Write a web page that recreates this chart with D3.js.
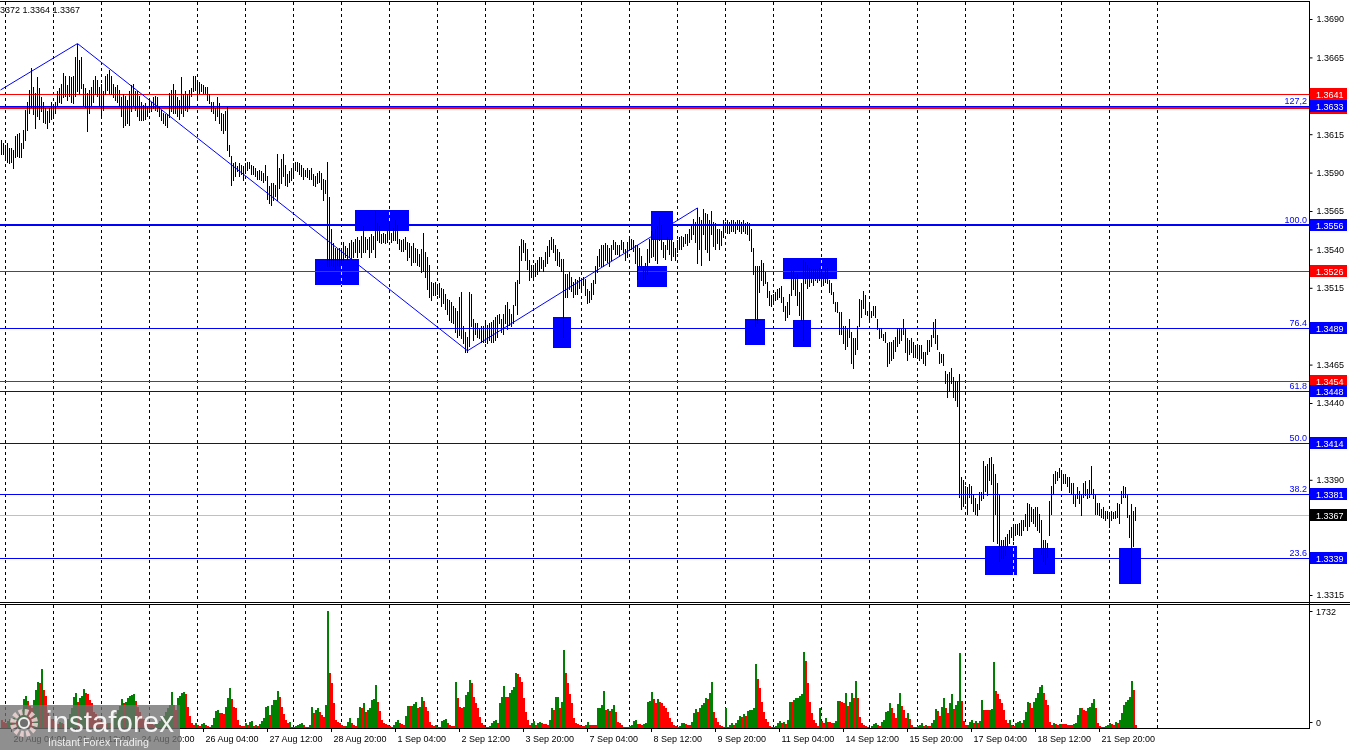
<!DOCTYPE html>
<html><head><meta charset="utf-8">
<script src="https://cdn.jsdelivr.net/npm/d3@7"></script>
<style>html,body{margin:0;padding:0;background:#fff;overflow:hidden}svg{display:block}text{font-family:"Liberation Sans",Arial,sans-serif}</style>
</head><body>
<svg id="chart" width="1350" height="750"></svg>
<script>
// ---------------- DATA ----------------
// Hourly bars, prices stored as pips above PRICE_BASE
const PRICE_BASE = 1.3300, PIP = 0.0001;
const highsPips = [
311,309,308,309,306,306,305,314,315,316, 309,318,331,336,344,358,346,342,352,345,
339,336,332,330,332,336,334,336,343,345, 348,355,353,347,353,352,353,365,374,363,
365,348,345,342,344,346,350,353,350,346, 348,343,353,354,357,353,348,346,347,344,
339,341,340,337,343,347,348,343,343,340, 336,334,335,333,337,336,339,340,339,333,
331,329,328,328,342,344,348,344,339,337, 352,341,343,341,344,345,353,353,350,349,
348,347,346,346,341,336,336,332,339,335, 329,328,330,333,308,301,296,297,294,296,
295,294,296,297,297,295,294,293,291,292, 291,290,295,288,281,283,283,282,302,293,
299,302,295,289,291,293,296,297,297,296, 295,293,292,293,292,293,289,288,290,291,
290,286,285,297,274,253,244,241,240,241, 240,245,242,241,244,246,245,247,248,246,
249,255,248,247,248,250,249,265,257,255, 250,251,250,252,258,251,254,259,256,247,
246,247,248,245,244,242,244,241,240,237, 240,251,238,235,230,219,218,219,217,218,
215,214,211,208,207,206,203,202,200,209, 212,190,186,183,212,211,195,192,192,189,
190,190,192,191,192,193,194,196,197,198, 195,198,204,206,201,198,204,219,220,242,
247,246,244,240,233,230,230,231,233,235, 235,233,238,242,246,248,247,243,240,238,
234,234,224,224,225,222,219,221,220,222, 220,222,221,214,213,218,220,229,236,240,
243,243,244,243,241,243,246,245,243,243, 246,245,240,245,247,247,246,243,243,241,
236,229,231,240,247,252,250,253,255,261, 256,245,243,248,247,246,245,241,246,248,
249,248,250,250,253,256,260,258,267,261, 259,266,264,263,259,265,258,257,253,253,
252,259,258,259,258,259,259,258,259,259, 258,259,257,258,257,253,241,229,229,229,
233,231,225,219,213,210,211,212,214,215, 216,209,203,206,211,226,226,222,224,212,
218,233,232,230,228,227,227,227,227,228, 227,224,227,228,220,218,212,206,206,199,
199,190,190,189,195,186,182,182,190,208, 207,213,210,200,204,200,203,203,195,189,
189,185,186,179,180,180,181,183,189,189, 189,195,189,182,181,182,180,178,178,178,
178,173,173,181,181,184,193,195,184,173, 172,172,161,159,160,163,157,154,154,159,
92,90,86,85,87,86,81,78,74,82, 82,102,99,100,104,105,100,94,88,80,
51,51,53,55,57,59,61,61,61,62, 64,64,68,75,74,72,71,72,72,68,
64,51,51,49,76,86,94,96,95,98, 96,94,94,92,92,88,88,80,85,83,
81,88,89,84,90,99,84,80,75,75, 71,72,70,70,68,70,69,70,75,74,
83,86,85,80,67,74,70,72
];
const lowsPips = [
302,302,298,297,296,297,293,300,301,300, 300,306,311,318,329,333,328,319,327,325,
330,323,322,319,323,325,327,329,334,336, 335,339,340,337,340,336,335,340,343,342,
345,334,333,317,329,334,336,341,340,334, 326,331,341,344,342,341,339,337,336,334,
327,320,321,322,321,330,334,331,327,324, 324,324,325,327,330,330,332,331,330,327,
324,322,321,320,326,330,329,329,327,325, 329,327,331,330,332,340,343,344,337,342,
343,342,342,337,335,330,329,324,327,322, 318,316,318,305,301,282,285,288,291,288,
289,285,290,292,293,289,289,288,286,286, 285,284,285,273,270,269,272,275,272,280,
283,288,282,281,284,285,288,292,291,289, 288,286,288,287,286,286,282,281,283,284,
279,272,277,229,229,230,229,227,230,229, 231,233,235,234,235,234,235,238,235,238,
235,238,238,240,235,238,240,235,246,245, 244,245,244,245,247,245,246,246,244,240,
239,239,240,233,235,230,232,232,230,229, 225,226,222,214,209,207,210,210,211,209,
203,205,201,198,194,193,192,186,183,184, 182,179,173,173,177,190,181,185,183,182,
180,180,180,179,181,180,180,181,183,192, 186,185,192,188,191,190,192,204,198,218,
233,238,233,227,220,222,222,223,224,226, 228,226,229,231,236,240,238,233,230,229,
226,183,209,209,214,213,209,211,211,215, 213,217,210,205,206,208,211,218,225,229,
229,229,233,232,229,233,240,237,237,236, 240,238,233,235,240,240,239,231,221,229,
228,221,221,224,232,235,236,233,231,246, 240,235,234,240,237,233,236,233,238,240,
240,242,244,243,245,247,250,245,231,240, 230,250,240,238,233,250,242,240,244,240,
243,248,252,251,251,252,252,251,253,252, 251,252,251,250,246,239,224,190,192,212,
220,217,218,209,204,203,205,207,208,209, 206,200,194,196,198,210,214,210,204,197,
194,181,218,215,216,219,217,220,219,220, 218,217,219,218,212,211,205,200,199,185,
185,179,175,177,183,166,163,172,175,190, 196,202,198,197,195,196,197,196,188,182,
183,181,180,164,166,168,169,174,177,179, 181,185,173,168,172,173,170,170,169,168,
169,166,165,172,174,177,183,179,175,166, 167,165,153,144,148,153,144,142,138,79,
71,73,75,68,79,75,70,68,67,71, 77,78,83,80,90,87,50,68,49,37,
39,39,41,46,49,53,51,54,55,54, 54,57,60,57,60,63,62,60,57,56,
42,37,35,40,54,68,81,88,90,92, 84,88,88,86,82,81,75,73,78,75,
67,79,80,78,79,81,78,68,68,67, 66,65,64,65,59,64,65,65,66,62,
75,79,79,66,53,25,47,64
];
const volumes = [
120,90,70,100,130,90,150,110,170,200,260,
430,470,400,330,300,415,560,685,660,873,560,480,
220,160,130,100,80,60,90,70,60,100,140,200,300,
464,513,390,440,480,572,520,500,420,365,240,
200,150,120,90,70,60,80,70,110,150,210,260,320,
425,365,390,440,475,490,510,405,316,240,
180,140,110,90,70,60,50,60,80,100,130,180,240,300,
340,538,340,267,440,480,513,533,500,316,178,80,
45,80,45,30,60,79,45,30,20,45,
150,257,267,217,215,200,
316,440,587,425,316,290,120,45,30,25,
70,45,95,110,30,45,30,
60,100,145,316,330,193,340,415,420,548,464,316,200,120,70,
95,20,15,25,45,60,70,45,20,15,45,316,220,260,300,230,193,158,340,1732,
809,660,365,120,94,70,50,25,
30,94,144,70,45,30,144,316,300,365,242,260,300,415,425,636,390,250,119,80,60,45,30,20,
45,94,119,70,60,45,178,326,320,330,360,390,290,306,454,405,316,257,94,45,30,45,20,10,109,120,130,70,45,30,25,686,
440,316,300,310,489,538,710,661,464,365,290,168,80,45,20,10,30,70,109,115,80,
365,464,626,464,460,520,563,612,809,800,760,686,440,242,119,45,70,105,45,70,94,70,65,60,45,120,290,267,454,460,290,390,1154,809,661,
500,375,150,80,60,45,30,25,40,94,45,45,45,40,290,300,340,548,267,277,257,277,340,242,94,70,40,20,10,20,25,45,100,115,60,55,
50,60,70,390,400,528,425,365,425,390,365,326,290,242,144,94,50,30,10,30,70,75,60,45,40,94,227,282,242,300,340,365,440,425,523,686,242,144,94,45,30,20,290,10,45,80,45,70,119,178,170,207,178,257,260,267,300,947,
720,587,390,242,129,94,30,20,10,30,80,105,80,94,60,119,390,380,415,440,450,470,
500,1120,990,661,390,217,119,70,30,290,105,80,144,94,90,70,80,100,400,395,380,365,513,326,380,523,440,700,440,168,70,45,30,15,5,
30,55,70,45,30,94,119,242,257,375,300,227,144,355,523,326,267,144,227,129,45,10,8,30,45,70,30,40,30,25,70,120,277,257,178,316,450,290,227,365,503,277,340,400,1105,
400,105,45,50,94,119,70,105,80,105,415,267,265,260,270,280,977,548,498,425,375,267,119,70,119,45,30,70,94,105,80,119,242,390,365,290,380,440,513,612,
640,513,415,340,94,45,80,60,50,60,55,55,55,50,45,40,60,80,193,300,290,267,257,290,316,365,425,290,70,30,20,10,30,45,70,65,45,94,70,120,217,340,380,420,460,695,562,40
];
const volumeMax = 1732;

// time axis labels (bar index of the labelled hour)
const timeLabelIdx = [5,37,69,101,133,165,197,229,261,293,325,357,389,421,453,485,517,549];
const timeLabels = ["20 Aug 04:00","21 Aug 12:00","24 Aug 20:00","26 Aug 04:00","27 Aug 12:00","28 Aug 20:00",
  "1 Sep 04:00","2 Sep 12:00","3 Sep 20:00","7 Sep 04:00","8 Sep 12:00","9 Sep 20:00","11 Sep 04:00",
  "14 Sep 12:00","15 Sep 20:00","17 Sep 04:00","18 Sep 12:00","21 Sep 20:00"];
const gridIdx = [2,26,50,74,98,122,146,170,194,218,242,266,290,314,338,362,386,410,434,458,482,506,530,554,578];

// price axis ticks
const priceTicks = [1.3315,1.3340,1.3365,1.3390,1.3415,1.3440,1.3465,1.3490,1.3515,1.3540,1.3565,1.3590,1.3615,1.3640,1.3665,1.3690];

// Fibonacci levels
const fibLabels = ["127,2","100.0","76.4","61.8","50.0","38.2","23.6"];
const fibPrices = [1.36334,1.3556,1.3489,1.3448,1.3414,1.3381,1.3339];
// red horizontal levels
const redLevels = [1.3641,1.36322,1.3526,1.3454];
const currentPrice = 1.3367;
const headerText = "3372 1.3364 1.3367";

// zigzag (bar index, price)
const zigzagIdx = [-0.5,38,233,348];
const zigzagPrice = [1.36438,1.3674,1.3474,1.3567];

// blue zones: start bar, end bar, low price, high price
const zoneStart = [157,177,276,325,318,372,396,391,492,516,559];
const zoneEnd   = [179,204,285,336,333,382,405,418,508,527,570];
const zoneLow   = [1.3517,1.3552,1.3476,1.3546,1.35155,1.3478,1.34765,1.3521,1.3328,1.33287,1.33222];
const zoneHigh  = [1.3534,1.35656,1.3496,1.3565,1.3529,1.3495,1.3494,1.35344,1.3347,1.33456,1.33456];

// ---------------- DRAWING ----------------
const highs = highsPips.map(v => PRICE_BASE + v * PIP);
const lows = lowsPips.map(v => PRICE_BASE + v * PIP);

const svg = d3.select("#chart");
const AXIS_X = 1309;
const PRICE_TOP = 2, PRICE_BOTTOM = 602, VOL_TOP = 605, VOL_BOTTOM = 728;
const BLUE = "#0000ff", RED = "#ff0000";

const x = d3.scaleLinear().domain([0, 1]).range([1, 3]);          // bar index -> left pixel
const y = d3.scaleLinear().domain([1.3315, 1.3690]).range([595, 19]);
const yv = d3.scaleLinear().domain([0, volumeMax]).range([VOL_BOTTOM, 611]);
const fmt = d3.format(".4f");

svg.append("rect").attr("width", 1350).attr("height", 750).attr("fill", "#fff");

const defs = svg.append("defs");
defs.append("clipPath").attr("id", "cp").append("rect")
  .attr("x", 0).attr("y", PRICE_TOP).attr("width", AXIS_X).attr("height", PRICE_BOTTOM - PRICE_TOP);
defs.append("clipPath").attr("id", "cv").append("rect")
  .attr("x", 0).attr("y", VOL_TOP).attr("width", AXIS_X).attr("height", VOL_BOTTOM - VOL_TOP);

// zones (background objects)
const zones = svg.append("g").attr("clip-path", "url(#cp)");
zoneStart.forEach((s, k) => {
  zones.append("rect")
    .attr("x", x(s)).attr("width", x(zoneEnd[k]) - x(s))
    .attr("y", Math.round(y(zoneHigh[k]))).attr("height", Math.round(y(zoneLow[k])) - Math.round(y(zoneHigh[k])))
    .attr("fill", BLUE);
});

// grid (inverse colour: black on white, yellow on blue)
const grid = svg.append("g").style("mix-blend-mode", "difference");
gridIdx.forEach(i => {
  const gx = x(i) + 0.5;
  [[PRICE_TOP, PRICE_BOTTOM], [VOL_TOP, VOL_BOTTOM]].forEach(([a, b]) => {
    grid.append("line").attr("x1", gx).attr("x2", gx).attr("y1", a).attr("y2", b)
      .attr("stroke", "#fff").attr("stroke-width", 1).attr("stroke-dasharray", "3,3")
      .attr("shape-rendering", "crispEdges");
  });
});

// horizontal levels
const lv = svg.append("g").attr("clip-path", "url(#cp)").attr("shape-rendering", "crispEdges");
lv.append("line").attr("x1", 0).attr("x2", AXIS_X)
  .attr("y1", Math.round(y(currentPrice)) + 0.5).attr("y2", Math.round(y(currentPrice)) + 0.5)
  .attr("stroke", "#c0c0c0").attr("stroke-width", 1);
redLevels.forEach((p, k) => {
  const w = k === 1 ? 2 : 1;
  const yy = Math.round(y(p)) + (w === 1 ? 0.5 : 0);
  lv.append("line").attr("x1", 0).attr("x2", AXIS_X).attr("y1", yy).attr("y2", yy)
    .attr("stroke", RED).attr("stroke-width", w);
});
fibPrices.forEach((p, k) => {
  const w = fibLabels[k] === "100.0" ? 2 : 1;
  const yy = Math.round(y(p)) + (w === 1 ? 0.5 : 0);
  lv.append("line").attr("x1", 0).attr("x2", AXIS_X).attr("y1", yy).attr("y2", yy)
    .attr("stroke", BLUE).attr("stroke-width", w);
  svg.append("text").attr("x", AXIS_X - 2).attr("y", Math.round(y(p)) - 2)
    .attr("text-anchor", "end").attr("font-size", 9).attr("fill", BLUE).text(fibLabels[k]);
});

// zigzag
svg.append("path").attr("clip-path", "url(#cp)")
  .datum(zigzagIdx.map((i, k) => [x(i) + 0.5, y(zigzagPrice[k])]))
  .attr("d", d3.line()).attr("fill", "none").attr("stroke", BLUE).attr("stroke-width", 1);

// price bars
svg.append("g").attr("clip-path", "url(#cp)").attr("shape-rendering", "crispEdges")
  .selectAll("line").data(highs).join("line")
  .attr("x1", (d, i) => x(i) + 0.5).attr("x2", (d, i) => x(i) + 0.5)
  .attr("y1", d => Math.round(y(d))).attr("y2", (d, i) => Math.round(y(lows[i])) + 1)
  .attr("stroke", "#000").attr("stroke-width", 1);

// volumes (green when volume rises vs previous bar)
svg.append("g").attr("clip-path", "url(#cv)").attr("shape-rendering", "crispEdges")
  .selectAll("rect").data(volumes).join("rect")
  .attr("x", (d, i) => x(i)).attr("width", 2)
  .attr("y", d => Math.round(yv(d))).attr("height", d => VOL_BOTTOM - Math.round(yv(d)))
  .attr("fill", (d, i) => (i > 0 && d > volumes[i - 1]) ? "#008000" : RED);

// frames
const fr = svg.append("g").attr("stroke", "#000").attr("stroke-width", 1).attr("shape-rendering", "crispEdges");
fr.append("line").attr("x1", 0).attr("x2", AXIS_X).attr("y1", 1.5).attr("y2", 1.5);
fr.append("line").attr("x1", 0).attr("x2", 1350).attr("y1", PRICE_BOTTOM + 0.5).attr("y2", PRICE_BOTTOM + 0.5);
fr.append("line").attr("x1", 0).attr("x2", 1350).attr("y1", VOL_TOP - 0.5).attr("y2", VOL_TOP - 0.5);
fr.append("line").attr("x1", 0).attr("x2", AXIS_X).attr("y1", VOL_BOTTOM + 0.5).attr("y2", VOL_BOTTOM + 0.5);
fr.append("line").attr("x1", AXIS_X + 0.5).attr("x2", AXIS_X + 0.5).attr("y1", 1).attr("y2", VOL_BOTTOM + 1);

// price label boxes (centres)
const boxCentres = redLevels.concat(fibPrices, [currentPrice]).map(p => Math.round(y(p)));

// price axis (labels hidden where a level box covers them, as in the terminal)
const pa = svg.append("g").attr("transform", `translate(${AXIS_X + 0.5},0)`)
  .call(d3.axisRight(y).tickValues(priceTicks).tickSize(3).tickPadding(4).tickFormat(fmt));
pa.select(".domain").remove();
pa.selectAll("text").attr("font-size", 9).attr("font-family", "Liberation Sans, Arial, sans-serif").attr("fill", "#000")
  .style("display", d => boxCentres.some(c => Math.abs(c - y(d)) < 8) ? "none" : null);
pa.selectAll("line").attr("stroke", "#000");

function priceBox(p, color, withText) {
  const cy = Math.round(y(p));
  svg.append("rect").attr("x", AXIS_X + 1).attr("y", cy - 6).attr("width", 37).attr("height", 12).attr("fill", color);
  if (withText) svg.append("text").attr("x", AXIS_X + 7).attr("y", cy + 3.5).attr("font-size", 9).attr("fill", "#fff").text(fmt(p));
}
// the red 1.3632 box lies under the blue 1.3633 box: its text is covered
redLevels.forEach((p, k) => priceBox(p, RED, k !== 1));
fibPrices.forEach(p => priceBox(p, BLUE, true));
priceBox(currentPrice, "#000", true);

// volume axis labels
[[volumeMax, 611], [0, 722]].forEach(([v, yy]) => {
  svg.append("line").attr("x1", AXIS_X + 0.5).attr("x2", AXIS_X + 3.5).attr("y1", yy + 0.5).attr("y2", yy + 0.5).attr("stroke", "#000");
  svg.append("text").attr("x", AXIS_X + 7).attr("y", yy + 3.5).attr("font-size", 9).attr("fill", "#000").text(v);
});

// time axis
const ta = svg.append("g").attr("transform", `translate(0,${VOL_BOTTOM + 1})`)
  .call(d3.axisBottom(x).tickValues(timeLabelIdx).tickSize(3).tickPadding(4).tickFormat((d, k) => timeLabels[k]));
ta.select(".domain").remove();
ta.selectAll("text").attr("font-size", 9).attr("font-family", "Liberation Sans, Arial, sans-serif")
  .attr("fill", "#000").attr("text-anchor", "start").attr("x", 2);
ta.selectAll("line").attr("stroke", "#000");

// header
svg.append("text").attr("x", 0).attr("y", 13).attr("font-size", 9).attr("fill", "#000").text(headerText);

// watermark
const wm = svg.append("g");
wm.append("rect").attr("x", 0).attr("y", 705).attr("width", 180).attr("height", 45).attr("fill", "#6f6f6f").attr("opacity", 0.78);
wm.append("circle").attr("cx", 24).attr("cy", 723).attr("r", 11).attr("fill", "none")
  .attr("stroke", "#f0d6d6").attr("stroke-width", 6).attr("stroke-dasharray", "3.5,2.3").attr("opacity", 0.85);
wm.append("circle").attr("cx", 24).attr("cy", 723).attr("r", 5).attr("fill", "#6f6f6f").attr("stroke", "#f0f0f0").attr("stroke-width", 2);
wm.append("text").attr("x", 46).attr("y", 732).attr("font-size", 29).attr("font-family", "Open Sans, sans-serif")
  .attr("fill", "#ffffff").attr("opacity", 0.9).attr("textLength", 128).attr("lengthAdjust", "spacingAndGlyphs").text("instaforex");
wm.append("text").attr("x", 48).attr("y", 746).attr("font-size", 11).attr("font-family", "Open Sans, sans-serif")
  .attr("fill", "#ffffff").attr("opacity", 0.85).attr("textLength", 101).attr("lengthAdjust", "spacingAndGlyphs").text("Instant Forex Trading");
</script>
</body></html>
